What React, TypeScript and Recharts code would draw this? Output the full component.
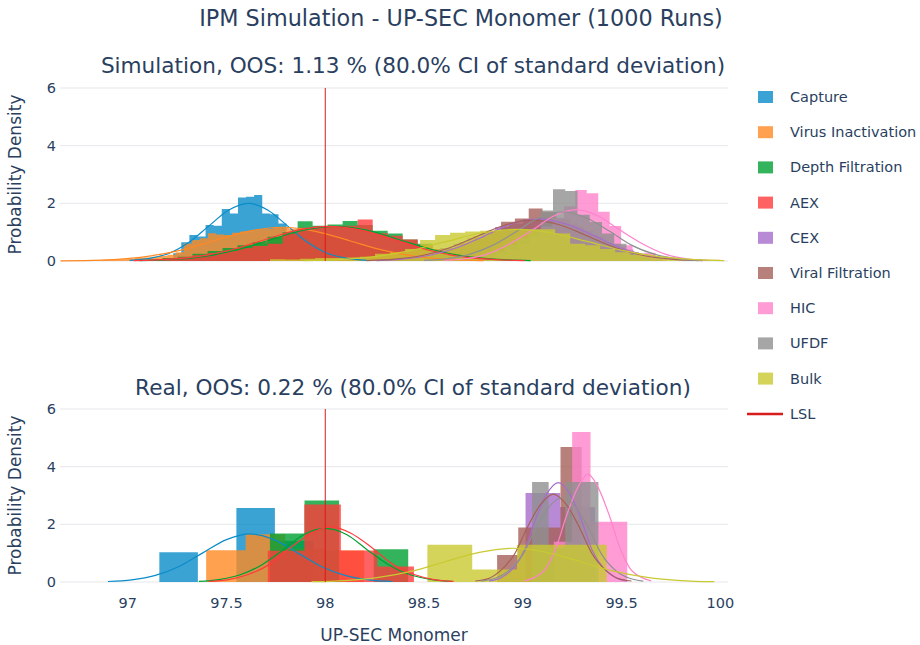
import { ComposedChart, Area, Line, XAxis, YAxis, CartesianGrid, ReferenceLine } from 'recharts'

const FONT = '"DejaVu Sans", Verdana, sans-serif'
const INK = '#2a3f5f'

const steps = ['Capture', 'Virus Inactivation', 'Depth Filtration', 'AEX', 'CEX', 'Viral Filtration', 'HIC', 'UFDF', 'Bulk']
const colors = ['#0a8cc8', '#ff8923', '#00a032', '#ff3b3b', '#a66dcc', '#a66059', '#ff83cc', '#909090', '#c9c931']
const lslColor = '#d81b1b'
const lsl = 98

const xTicks = [97, 97.5, 98, 98.5, 99, 99.5, 100]
const yTicks = [0, 2, 4, 6]
const X_DOMAIN: [number, number] = [96.657, 100.039]

// ---- Simulation (1000 runs): first bin edge, bin width, densities per step
const simBinStart = [97.23, 96.75, 97.1, 97.1, 98.3, 98.33, 98.744, 98.657, 97.72]
const simBinWidth = [0.041, 0.041, 0.076, 0.076, 0.07, 0.07, 0.058, 0.062, 0.076]
const simCapture = [0.27, 0.65, 0.9, 0.85, 1.25, 1.22, 1.8, 1.65, 2.2, 2.23, 2.29, 1.65, 1.62, 1.3, 1.0, 0.85, 0.6, 0.45, 0.3, 0.2, 0.1]
const simVirus = [0.02, 0.02, 0.03, 0.04, 0.05, 0.06, 0.08, 0.1, 0.12, 0.15, 0.18, 0.22, 0.3, 0.61, 0.73, 0.79, 0.96, 0.92, 0.9, 0.98, 1.02, 1.05, 1.1, 1.11, 1.16, 1.15, 1.12, 1.1, 1.05, 1.0, 0.95, 0.9, 0.8, 0.7, 0.62, 0.55, 0.45, 0.38, 0.3, 0.25, 0.2, 0.15, 0.1, 0.06, 0.03]
const simDepth = [0.05, 0.1, 0.15, 0.25, 0.35, 0.45, 0.55, 0.65, 0.84, 1.0, 1.38, 1.22, 1.27, 1.39, 1.25, 1.05, 0.95, 0.75, 0.6, 0.42, 0.3, 0.18, 0.1, 0.04]
const simAex = [0.04, 0.08, 0.12, 0.2, 0.27, 0.35, 0.45, 0.52, 0.6, 0.95, 1.15, 1.2, 1.18, 1.22, 1.44, 0.96, 0.88, 0.75, 0.55, 0.42, 0.3, 0.2, 0.12, 0.06, 0.03]
const simCex = [0.05, 0.1, 0.2, 0.3, 0.45, 0.6, 0.8, 1.0, 1.18, 1.3, 1.45, 1.5, 1.4, 1.3, 1.05, 0.85, 0.6, 0.4, 0.2, 0.1]
const simViral = [0.05, 0.1, 0.18, 0.3, 0.45, 0.65, 0.85, 1.05, 1.36, 1.47, 1.82, 1.7, 1.45, 1.2, 0.9, 0.65, 0.4, 0.22, 0.1]
const simHic = [0.1, 0.15, 0.25, 0.4, 0.6, 0.9, 1.2, 1.5, 1.9, 2.46, 2.35, 1.71, 1.21, 0.55, 0.2, 0.29, 0.08]
const simUfdf = [0.05, 0.1, 0.2, 0.35, 0.55, 0.8, 1.1, 1.75, 2.49, 2.43, 1.6, 1.35, 0.95, 0.6, 0.3, 0.15, 0.05]
const simBulk = [0.06, 0.05, 0.08, 0.1, 0.1, 0.12, 0.15, 0.25, 0.3, 0.42, 0.73, 0.9, 0.98, 1.02, 1.05, 1.08, 1.1, 1.1, 1.1, 0.95, 0.6, 0.55, 0.42, 0.3, 0.22, 0.15, 0.1, 0.06, 0.05, 0.04]

// density curves, [x, density]
const simCaptureFit = [[97.01, 0.02], [97.11, 0.09], [97.21, 0.27], [97.31, 0.65], [97.41, 1.21], [97.51, 1.76], [97.61, 2.0], [97.71, 1.76], [97.81, 1.21], [97.91, 0.65], [98.01, 0.27], [98.11, 0.09], [98.21, 0.02]]
const simVirusFit = [[96.66, 0.005], [96.76, 0.013], [96.93, 0.05], [97.1, 0.16], [97.27, 0.38], [97.44, 0.71], [97.61, 1.03], [97.78, 1.17], [97.95, 1.03], [98.12, 0.71], [98.29, 0.38], [98.46, 0.16], [98.63, 0.05], [98.8, 0.013]]
const simDepthFit = [[97.06, 0.013], [97.225, 0.053], [97.39, 0.16], [97.555, 0.39], [97.72, 0.73], [97.885, 1.06], [98.05, 1.2], [98.215, 1.06], [98.38, 0.73], [98.545, 0.39], [98.71, 0.16], [98.875, 0.053], [99.04, 0.013]]
const simAexFit = [[97.03, 0.013], [97.195, 0.053], [97.36, 0.16], [97.525, 0.39], [97.69, 0.73], [97.855, 1.06], [98.02, 1.2], [98.185, 1.06], [98.35, 0.73], [98.515, 0.39], [98.68, 0.16], [98.845, 0.053], [99.01, 0.013]]
const simCexFit = [[98.26, 0.016], [98.39, 0.064], [98.53, 0.2], [98.67, 0.47], [98.81, 0.88], [98.94, 1.28], [99.08, 1.45], [99.22, 1.28], [99.36, 0.88], [99.49, 0.47], [99.63, 0.2], [99.77, 0.064], [99.91, 0.016]]
const simViralFit = [[98.21, 0.016], [98.35, 0.062], [98.49, 0.19], [98.63, 0.46], [98.77, 0.86], [98.91, 1.25], [99.05, 1.42], [99.19, 1.25], [99.33, 0.86], [99.47, 0.46], [99.61, 0.19], [99.75, 0.062], [99.89, 0.016]]
const simHicFit = [[98.6, 0.02], [98.71, 0.078], [98.82, 0.24], [98.93, 0.58], [99.05, 1.08], [99.16, 1.57], [99.27, 1.78], [99.38, 1.57], [99.49, 1.08], [99.61, 0.58], [99.72, 0.24], [99.83, 0.078], [99.94, 0.02]]
const simUfdfFit = [[98.5, 0.019], [98.61, 0.075], [98.73, 0.23], [98.85, 0.55], [98.97, 1.03], [99.08, 1.5], [99.2, 1.7], [99.32, 1.5], [99.44, 1.03], [99.55, 0.55], [99.67, 0.23], [99.79, 0.075], [99.91, 0.019]]
const simBulkFit = [[97.89, 0.012], [98.07, 0.048], [98.25, 0.15], [98.43, 0.36], [98.61, 0.67], [98.79, 0.97], [98.97, 1.1], [99.15, 0.97], [99.33, 0.67], [99.51, 0.36], [99.69, 0.15], [99.87, 0.048], [100.02, 0.014]]

// ---- Real batches
const realBinStart = [97.16, 97.397, 97.72, 97.709, 99.014, 98.87, 99.157, 99.047, 98.517]
const realBinWidth = [0.195, 0.2, 0.175, 0.185, 0.176, 0.107, 0.093, 0.084, 0.227]
const realCapture = [1.03, 0, 2.57, 1.43]
const realVirus = [1.1, 1.66, 1.15, 1.09]
const realDepth = [1.68, 2.83, 0, 1.14]
const realAex = [1.08, 2.69, 1.09, 0.54]
const realCex = [3.09, 2.6]
const realViral = [0.94, 1.89, 1.89, 4.68]
const realHic = [1.4, 5.2, 2.09, 2.09]
const realUfdf = [3.47, 1.19, 3.47, 3.47]
const realBulk = [1.29, 0.43, 1.29, 1.29]

const realCaptureFit = [[96.9, 0.018], [97.02, 0.073], [97.14, 0.23], [97.26, 0.54], [97.38, 1.01], [97.5, 1.47], [97.62, 1.67], [97.74, 1.47], [97.86, 1.01], [97.98, 0.54], [98.1, 0.23], [98.22, 0.073], [98.34, 0.018]]
const realDepthFit = [[97.36, 0.02], [97.46, 0.082], [97.57, 0.25], [97.68, 0.6], [97.79, 1.13], [97.89, 1.64], [98.0, 1.86], [98.11, 1.64], [98.21, 1.13], [98.32, 0.6], [98.43, 0.25], [98.54, 0.082], [98.64, 0.02]]
const realAexFit = [[97.41, 0.021], [97.51, 0.084], [97.61, 0.26], [97.72, 0.62], [97.82, 1.17], [97.93, 1.69], [98.03, 1.92], [98.13, 1.69], [98.24, 1.17], [98.34, 0.62], [98.45, 0.26], [98.55, 0.084], [98.65, 0.021]]
const realCexFit = [[98.83, 0.038], [98.89, 0.15], [98.95, 0.47], [99.01, 1.12], [99.06, 2.09], [99.12, 3.04], [99.18, 3.45], [99.24, 3.04], [99.3, 2.09], [99.35, 1.12], [99.41, 0.47], [99.47, 0.15], [99.53, 0.038]]
const realViralFit = [[98.76, 0.034], [98.83, 0.13], [98.89, 0.41], [98.96, 0.99], [99.02, 1.85], [99.09, 2.69], [99.155, 3.05], [99.22, 2.69], [99.29, 1.85], [99.35, 0.99], [99.42, 0.41], [99.48, 0.13], [99.55, 0.034]]
const realHicFit = [[99.01, 0.041], [99.06, 0.16], [99.12, 0.5], [99.17, 1.22], [99.22, 2.27], [99.28, 3.3], [99.33, 3.74], [99.38, 3.3], [99.44, 2.27], [99.49, 1.22], [99.54, 0.5], [99.6, 0.16], [99.65, 0.041]]
const realUfdfFit = [[98.79, 0.032], [98.86, 0.13], [98.93, 0.4], [99.0, 0.95], [99.06, 1.78], [99.13, 2.58], [99.2, 2.93], [99.27, 2.58], [99.34, 1.78], [99.4, 0.95], [99.47, 0.4], [99.54, 0.13], [99.61, 0.032]]
const realBulkFit = [[97.93, 0.013], [98.1, 0.051], [98.27, 0.16], [98.44, 0.38], [98.61, 0.71], [98.78, 1.03], [98.95, 1.17], [99.12, 1.03], [99.29, 0.71], [99.46, 0.38], [99.63, 0.16], [99.8, 0.051], [99.97, 0.013]]

type Pt = { x: number; y: number }

function toBins(start: number, width: number, values: number[]): Pt[] {
  const pts = values.map((v, i) => ({ x: start + i * width, y: v }))
  pts.push({ x: start + values.length * width, y: 0 })
  return pts
}

const toPts = (p: number[][]): Pt[] => p.map(([x, y]) => ({ x, y }))

const simHists = [simCapture, simVirus, simDepth, simAex, simCex, simViral, simHic, simUfdf, simBulk].map((v, i) =>
  toBins(simBinStart[i], simBinWidth[i], v)
)
const simFits: (Pt[] | null)[] = [simCaptureFit, simVirusFit, simDepthFit, simAexFit, simCexFit, simViralFit, simHicFit, simUfdfFit, simBulkFit].map(toPts)

const realHists = [realCapture, realVirus, realDepth, realAex, realCex, realViral, realHic, realUfdf, realBulk].map((v, i) =>
  toBins(realBinStart[i], realBinWidth[i], v)
)
// the virus inactivation curve is not visible in the real panel
const realFits: (Pt[] | null)[] = [realCaptureFit, null, realDepthFit, realAexFit, realCexFit, realViralFit, realHicFit, realUfdfFit, realBulkFit].map((p) =>
  p ? toPts(p) : null
)

const tickStyle = { fill: INK, fontSize: 14.5, fontFamily: FONT }
const titleStyle = { fill: INK, fontSize: 17, fontFamily: FONT }

function Panel({ hists, fits, top, showX }: { hists: Pt[][]; fits: (Pt[] | null)[]; top: number; showX: boolean }) {
  const plotH = 173
  const axisH = 62
  return (
    <div style={{ position: 'absolute', left: 0, top }}>
      <ComposedChart
        width={740}
        height={10 + plotH + (showX ? axisH : 10)}
        margin={{ top: 10, right: 12, bottom: showX ? 0 : 10, left: 0 }}
      >
        <CartesianGrid vertical={false} stroke="#e6e7ec" />
        <XAxis
          type="number"
          dataKey="x"
          domain={X_DOMAIN}
          ticks={xTicks}
          allowDataOverflow
          hide={!showX}
          height={axisH}
          axisLine={false}
          tickLine={false}
          tickSize={0}
          tickMargin={16}
          tick={tickStyle}
          label={showX ? { value: 'UP-SEC Monomer', position: 'insideBottom', offset: 3, style: titleStyle } : undefined}
        />
        <YAxis
          type="number"
          domain={[0, 6]}
          ticks={yTicks}
          width={60}
          axisLine={false}
          tickLine={false}
          tickSize={0}
          tickMargin={4}
          tick={tickStyle}
          label={{
            value: 'Probability Density',
            angle: -90,
            position: 'insideLeft',
            offset: 15,
            style: { ...titleStyle, textAnchor: 'middle' },
          }}
        />
        {hists.map((d, i) => (
          <Area
            key={'h' + i}
            data={d}
            dataKey="y"
            type="stepAfter"
            fill={colors[i]}
            fillOpacity={0.8}
            stroke="none"
            dot={false}
            activeDot={false}
            isAnimationActive={false}
          />
        ))}
        {fits.map((d, i) =>
          d ? (
            <Line
              key={'f' + i}
              data={d}
              dataKey="y"
              type="monotone"
              stroke={colors[i]}
              strokeWidth={1.2}
              dot={false}
              activeDot={false}
              isAnimationActive={false}
            />
          ) : null
        )}
        <ReferenceLine x={lsl} stroke={lslColor} strokeWidth={1} />
      </ComposedChart>
    </div>
  )
}

export default function App() {
  return (
    <div style={{ position: 'fixed', left: 0, top: 0, width: 920, height: 645, background: '#fff', overflow: 'hidden', fontFamily: FONT }}>
      <Panel hists={simHists} fits={simFits} top={78} showX={false} />
      <Panel hists={realHists} fits={realFits} top={399} showX />
      <svg width={920} height={645} style={{ position: 'absolute', left: 0, top: 0, pointerEvents: 'none' }}>
        <text x={461} y={18} textAnchor="middle" dominantBaseline="central" fill={INK} fontSize={22.3} fontFamily={FONT}>
          IPM Simulation - UP-SEC Monomer (1000 Runs)
        </text>
        <text x={413} y={65} textAnchor="middle" dominantBaseline="central" fill={INK} fontSize={21.6} fontFamily={FONT}>
          Simulation, OOS: 1.13 % (80.0% CI of standard deviation)
        </text>
        <text x={413} y={387} textAnchor="middle" dominantBaseline="central" fill={INK} fontSize={21.6} fontFamily={FONT}>
          Real, OOS: 0.22 % (80.0% CI of standard deviation)
        </text>
        {steps.map((name, i) => (
          <g key={name}>
            <rect x={758} y={97 + i * 35.2 - 6} width={15} height={12} fill={colors[i]} fillOpacity={0.8} />
            <text x={790} y={97 + i * 35.2} dominantBaseline="central" fill={INK} fontSize={14.5} fontFamily={FONT}>
              {name}
            </text>
          </g>
        ))}
        <line x1={747} x2={783} y1={414} y2={414} stroke={lslColor} strokeWidth={2.5} />
        <text x={790} y={414} dominantBaseline="central" fill={INK} fontSize={14.5} fontFamily={FONT}>
          LSL
        </text>
      </svg>
    </div>
  )
}
